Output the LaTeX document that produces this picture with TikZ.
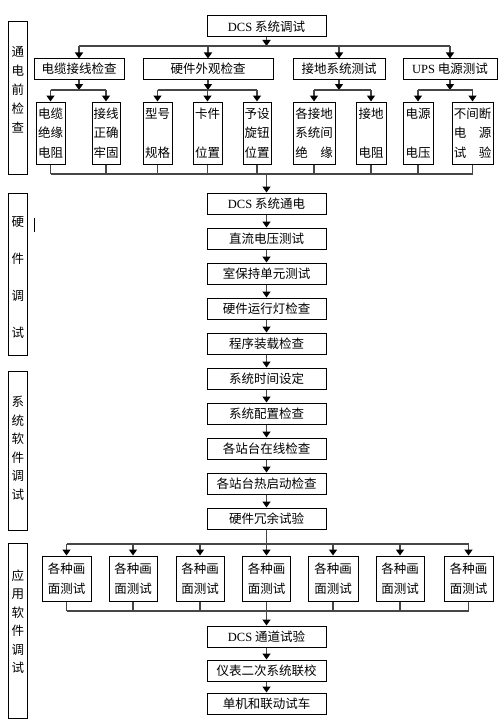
\documentclass[tikz,border=0pt]{standalone}
\usepackage{fontspec}
\setmainfont{Noto Sans CJK SC}
\newfontfamily\latin{Liberation Serif}
\usetikzlibrary{positioning,arrows.meta}

\begin{document}
\begin{tikzpicture}[x=1pt, y=-1pt,
  font=\fontsize{12.5}{19.5}\selectfont,
  box/.style={draw, line width=1pt, inner sep=0pt, align=center},
  midbox/.style={box, minimum width=119pt, minimum height=21pt},
  stagebox/.style={draw, line width=1pt, minimum width=19.5pt, inner sep=0pt},
  arr/.style={-{Triangle[width=8pt, length=6pt, color=black]}, line width=1.4pt, draw=gray!55!black},
  tie/.style={line width=1.4pt, draw=gray!55!black}
]
\useasboundingbox (0,0) rectangle (502,725);

% top level
\node[midbox] (dcs) at (266.5,26.5) {{\latin DCS} 系统调试};
\coordinate (bus1) at (0,46);
\coordinate (bus2) at (0,90);
\coordinate (bus3) at (0,174);

\node[box, minimum width=90pt, minimum height=20pt] (cable) at (79,69) {电缆接线检查};
\node[box, minimum width=130pt, minimum height=20pt] (hw) at (208,69) {硬件外观检查};
\node[box, minimum width=92pt, minimum height=20pt] (gnd) at (339,69) {接地系统测试};
\node[box, minimum width=94pt, minimum height=20pt] (ups) at (450,69) {{\latin UPS} 电源测试};

\node[box, minimum width=29pt, minimum height=62pt] (c1) at (50.5,133) {电缆\\绝缘\\电阻};
\node[box, minimum width=28pt, minimum height=62pt] (c2) at (106,133) {接线\\正确\\牢固};
\node[box, minimum width=29pt, minimum height=62pt] (h1) at (157.5,133) {型号\\~\\规格};
\node[box, minimum width=29pt, minimum height=62pt] (h2) at (207.5,133) {卡件\\~\\位置};
\node[box, minimum width=28pt, minimum height=62pt] (h3) at (257,133) {予设\\旋钮\\位置};
\node[box, minimum width=42pt, minimum height=62pt] (g1) at (314,133) {各接地\\系统间\\绝\quad 缘};
\node[box, minimum width=30pt, minimum height=62pt] (g2) at (371,133) {接地\\~\\电阻};
\node[box, minimum width=30pt, minimum height=62pt] (u1) at (418,133) {电源\\~\\电压};
\node[box, minimum width=41pt, minimum height=62pt] (u2) at (472.5,133) {不间断\\电\quad 源\\试\quad 验};

\draw[arr] (dcs.south) -- (dcs.south |- bus1);
\draw[tie] (cable.north |- bus1) -- (ups.north |- bus1);
\draw[arr] (cable.north |- bus1) -- (cable.north);
\draw[arr] (hw.north |- bus1) -- (hw.north);
\draw[arr] (gnd.north |- bus1) -- (gnd.north);
\draw[arr] (ups.north |- bus1) -- (ups.north);

\draw[arr] (cable.south) -- (cable.south |- bus2);
\draw[arr] (hw.south) -- (hw.south |- bus2);
\draw[arr] (gnd.south) -- (gnd.south |- bus2);
\draw[arr] (ups.south) -- (ups.south |- bus2);
\draw[tie] (c1.north |- bus2) -- (c2.north |- bus2);
\draw[tie] (h1.north |- bus2) -- (h3.north |- bus2);
\draw[tie] (g1.north |- bus2) -- (g2.north |- bus2);
\draw[tie] (u1.north |- bus2) -- (u2.north |- bus2);
\draw[arr] (c1.north |- bus2) -- (c1.north);
\draw[arr] (c2.north |- bus2) -- (c2.north);
\draw[arr] (h1.north |- bus2) -- (h1.north);
\draw[arr] (h2.north |- bus2) -- (h2.north);
\draw[arr] (h3.north |- bus2) -- (h3.north);
\draw[arr] (g1.north |- bus2) -- (g1.north);
\draw[arr] (g2.north |- bus2) -- (g2.north);
\draw[arr] (u1.north |- bus2) -- (u1.north);
\draw[arr] (u2.north |- bus2) -- (u2.north);

\draw[tie] (c1.south) -- (c1.south |- bus3);
\draw[tie] (c2.south) -- (c2.south |- bus3);
\draw[tie] (h1.south) -- (h1.south |- bus3);
\draw[tie] (h2.south) -- (h2.south |- bus3);
\draw[tie] (h3.south) -- (h3.south |- bus3);
\draw[tie] (g1.south) -- (g1.south |- bus3);
\draw[tie] (g2.south) -- (g2.south |- bus3);
\draw[tie] (u1.south) -- (u1.south |- bus3);
\draw[tie] (u2.south) -- (u2.south |- bus3);
\draw[tie] (c1.south |- bus3) -- (u2.south |- bus3);

% middle column
\node[midbox] (m1) at (266.5,203.5) {{\latin DCS} 系统通电};
\node[midbox, below=13pt of m1] (m2) {直流电压测试};
\node[midbox, below=13pt of m2] (m3) {室保持单元测试};
\node[midbox, below=13pt of m3] (m4) {硬件运行灯检查};
\node[midbox, below=13pt of m4] (m5) {程序装载检查};
\node[midbox, below=13pt of m5] (m6) {系统时间设定};
\node[midbox, below=13pt of m6] (m7) {系统配置检查};
\node[midbox, below=13pt of m7] (m8) {各站台在线检查};
\node[midbox, below=13pt of m8] (m9) {各站台热启动检查};
\node[midbox, below=13pt of m9] (m10) {硬件冗余试验};

\draw[arr] (m1.north |- bus3) -- (m1.north);
\draw[arr] (m1) -- (m2);
\draw[arr] (m2) -- (m3);
\draw[arr] (m3) -- (m4);
\draw[arr] (m4) -- (m5);
\draw[arr] (m5) -- (m6);
\draw[arr] (m6) -- (m7);
\draw[arr] (m7) -- (m8);
\draw[arr] (m8) -- (m9);
\draw[arr] (m9) -- (m10);

% screen tests
\coordinate (bus4) at (0,544);
\coordinate (bus5) at (0,611);
\node[box, minimum width=49pt, minimum height=45pt] (p1) at (66.5,578.5) {各种画\\面测试};
\node[box, minimum width=48pt, minimum height=45pt] (p2) at (133,578.5) {各种画\\面测试};
\node[box, minimum width=48pt, minimum height=45pt] (p3) at (200,578.5) {各种画\\面测试};
\node[box, minimum width=48pt, minimum height=45pt] (p4) at (266.5,578.5) {各种画\\面测试};
\node[box, minimum width=50pt, minimum height=45pt] (p5) at (333,578.5) {各种画\\面测试};
\node[box, minimum width=48pt, minimum height=45pt] (p6) at (400,578.5) {各种画\\面测试};
\node[box, minimum width=49pt, minimum height=45pt] (p7) at (468.5,578.5) {各种画\\面测试};

\draw[tie] (m10.south) -- (m10.south |- bus4);
\draw[tie] (p1.north |- bus4) -- (p7.north |- bus4);
\draw[arr] (p1.north |- bus4) -- (p1.north);
\draw[arr] (p2.north |- bus4) -- (p2.north);
\draw[arr] (p3.north |- bus4) -- (p3.north);
\draw[arr] (p4.north |- bus4) -- (p4.north);
\draw[arr] (p5.north |- bus4) -- (p5.north);
\draw[arr] (p6.north |- bus4) -- (p6.north);
\draw[arr] (p7.north |- bus4) -- (p7.north);
\draw[tie] (p1.south) -- (p1.south |- bus5);
\draw[tie] (p2.south) -- (p2.south |- bus5);
\draw[tie] (p3.south) -- (p3.south |- bus5);
\draw[tie] (p4.south) -- (p4.south |- bus5);
\draw[tie] (p5.south) -- (p5.south |- bus5);
\draw[tie] (p6.south) -- (p6.south |- bus5);
\draw[tie] (p7.south) -- (p7.south |- bus5);
\draw[tie] (p1.south |- bus5) -- (p7.south |- bus5);

\node[midbox] (n1) at (266.5,636.5) {{\latin DCS} 通道试验};
\node[midbox, below=12pt of n1] (n2) {仪表二次系统联校};
\node[midbox, below=11pt of n2] (n3) {单机和联动试车};
\draw[arr] (n1.north |- bus5) -- (n1.north);
\draw[arr] (n1) -- (n2);
\draw[arr] (n2) -- (n3);

% stages on the left
\node[stagebox, minimum height=152pt] (s1) at (18,98) {};
\node[stagebox, minimum height=162pt] (s2) at (18,274) {};
\node[stagebox, minimum height=159pt] (s3) at (18,450.5) {};
\node[stagebox, minimum height=175pt] (s4) at (18,630.5) {};
\node[align=center, inner sep=0pt, font=\fontsize{12.5}{19}\selectfont] (s1text) at (18,89.5) {通\\电\\前\\检\\查};
\node[align=center, inner sep=0pt, font=\fontsize{12.5}{37}\selectfont] (s2text) at (18,278) {硬\\件\\调\\试};
\node[align=center, inner sep=0pt, font=\fontsize{12.5}{18.5}\selectfont] (s3text) at (18,448.5) {系\\统\\软\\件\\调\\试};
\node[align=center, inner sep=0pt, font=\fontsize{12.5}{18.5}\selectfont] (s4text) at (18,621.5) {应\\用\\软\\件\\调\\试};
\draw[line width=0.8pt] (34,218) -- (34,232);
\end{tikzpicture}
\end{document}
